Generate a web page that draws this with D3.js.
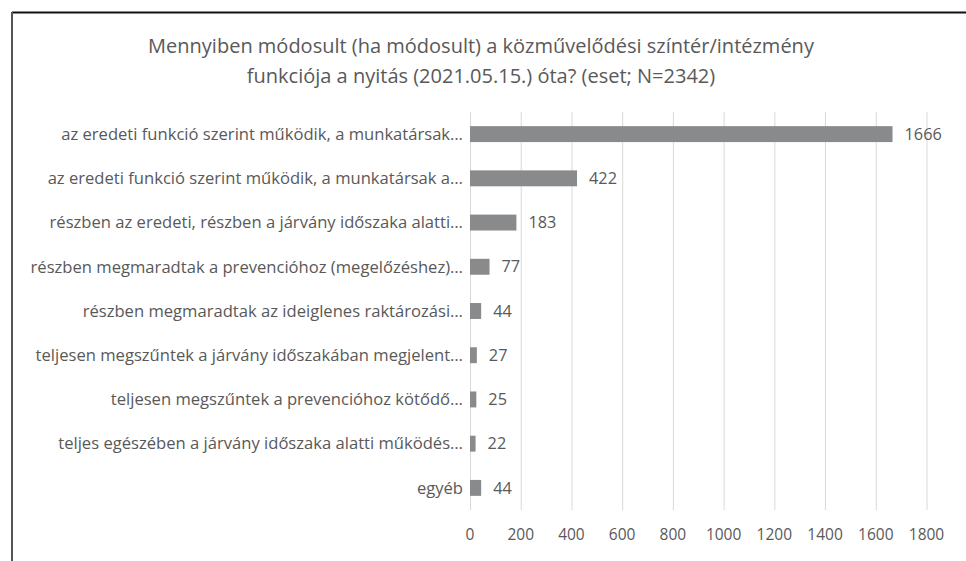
<!DOCTYPE html>
<html>
<head>
<meta charset="utf-8">
<script src="https://cdn.jsdelivr.net/npm/d3@7"></script>
<style>
  body { margin: 0; background: #fff; }
  text { font-family: "Open Sans", sans-serif; fill: #595959; }
</style>
</head>
<body>
<div id="chart"></div>
<script>
// chart values
const categories = [
  "az eredeti funkció szerint működik, a munkatársak…",
  "az eredeti funkció szerint működik, a munkatársak a…",
  "részben az eredeti, részben a járvány időszaka alatti…",
  "részben megmaradtak a prevencióhoz (megelőzéshez)…",
  "részben megmaradtak az ideiglenes raktározási…",
  "teljesen megszűntek a járvány időszakában megjelent…",
  "teljesen megszűntek a prevencióhoz kötődő…",
  "teljes egészében a járvány időszaka alatti működés…",
  "egyéb"
];
const values = [1666, 422, 183, 77, 44, 27, 25, 22, 44];
const xTicks = [0, 200, 400, 600, 800, 1000, 1200, 1400, 1600, 1800];
const titleLines = [
  "Mennyiben módosult (ha módosult) a közművelődési színtér/intézmény",
  "funkciója a nyitás (2021.05.15.) óta? (eset; N=2342)"
];

const W = 966, H = 561;
const svg = d3.select("#chart").append("svg")
  .attr("width", W)
  .attr("height", H);

// chart border (runs off right and bottom edges)
svg.append("line")
  .attr("x1", 12).attr("y1", 12.5).attr("x2", W).attr("y2", 12.5)
  .attr("stroke", "#111").attr("stroke-width", 2);
svg.append("line")
  .attr("x1", 12).attr("y1", 12).attr("x2", 12).attr("y2", H)
  .attr("stroke", "#555").attr("stroke-width", 2);

// title
svg.append("text")
  .attr("x", 481)
  .attr("y", 53)
  .attr("text-anchor", "middle")
  .attr("font-size", "20px")
  .selectAll("tspan")
  .data(titleLines)
  .join("tspan")
  .attr("x", 481)
  .attr("dy", (d, i) => i === 0 ? 0 : 30)
  .text(d => d);

const x = d3.scaleLinear().domain([0, 1800]).range([470, 926.5]);
const y = d3.scaleBand().domain(categories).range([112, 510]).paddingInner(0.64).paddingOuter(0.32);

// gridlines
svg.append("g")
  .selectAll("line")
  .data(xTicks)
  .join("line")
  .attr("x1", d => x(d) + 0.5)
  .attr("x2", d => x(d) + 0.5)
  .attr("y1", 112)
  .attr("y2", 510)
  .attr("stroke", "#d9d9d9")
  .attr("stroke-width", 1);

// x axis labels
svg.append("g")
  .selectAll("text")
  .data(xTicks)
  .join("text")
  .attr("x", d => x(d))
  .attr("y", 535)
  .attr("dy", "0.35em")
  .attr("text-anchor", "middle")
  .attr("font-size", "15.5px")
  .text(d => d);

// bars
svg.append("g")
  .selectAll("rect")
  .data(values)
  .join("rect")
  .attr("x", x(0))
  .attr("y", (d, i) => y(categories[i]))
  .attr("width", d => x(d) - x(0))
  .attr("height", y.bandwidth())
  .attr("fill", "#898a8c");

// value labels
svg.append("g")
  .selectAll("text")
  .data(values)
  .join("text")
  .attr("x", d => x(d) + 12)
  .attr("y", (d, i) => y(categories[i]) + y.bandwidth() / 2)
  .attr("dy", "0.35em")
  .attr("font-size", "16.3px")
  .text(d => d);

// category labels
svg.append("g")
  .selectAll("text")
  .data(categories)
  .join("text")
  .attr("x", 463)
  .attr("y", d => y(d) + y.bandwidth() / 2)
  .attr("dy", "0.35em")
  .attr("text-anchor", "end")
  .attr("font-size", "16.6px")
  .text(d => d);
</script>
</body>
</html>
